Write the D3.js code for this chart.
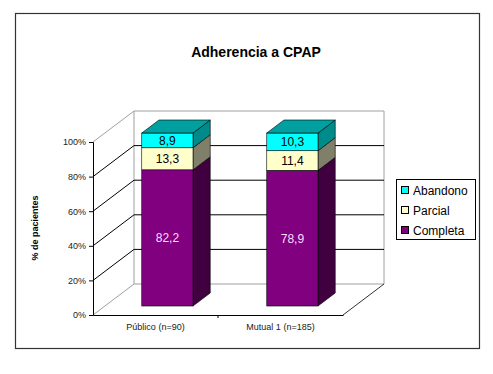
<!DOCTYPE html>
<html>
<head>
<meta charset="utf-8">
<script src="https://cdn.jsdelivr.net/npm/d3@7"></script>
<style>
  body { margin: 0; background: #fff; }
  svg text { font-family: Arial, "Liberation Sans", sans-serif; }
</style>
</head>
<body>
<div id="chart"></div>
<script>
// data (100% stacked, labels show raw values)
const categories = ["Público (n=90)", "Mutual 1 (n=185)"]
const seriesNames = ["Completa", "Parcial", "Abandono"]
const completa = [82.2, 78.9]
const parcial = [13.3, 11.4]
const abandono = [8.9, 10.3]
const yTicks = [0, 0.2, 0.4, 0.6, 0.8, 1]

const frontColor = { Completa: "#800080", Parcial: "#ffffcc", Abandono: "#00ffff" }
const sideColor = { Completa: "#400040", Parcial: "#80806a", Abandono: "#008b8b" }
const topColor = "#00a0a0"
const labelColor = { Completa: "#ffddff", Parcial: "#000", Abandono: "#000" }

const width = 493, height = 374
const depth = [41, -31]      // back wall offset
const barDepth = [0.29, 0.71] // bar position inside the depth

const rows = categories.map((c, i) => ({ cat: c, Completa: completa[i], Parcial: parcial[i], Abandono: abandono[i] }))
const stacked = d3.stack().keys(seriesNames).offset(d3.stackOffsetExpand)(rows)

const x = d3.scaleBand().domain(categories).range([93, 343]).paddingInner(0).paddingOuter(0)
const y = d3.scaleLinear().domain([0, 1]).range([315, 142])
const barW = x.bandwidth() * 0.41

const proj = (px, v, d) => [px + depth[0] * d, y(v) + depth[1] * d]
const fmt = v => v.toFixed(1).replace(".", ",")

const svg = d3.select("#chart").append("svg")
  .attr("width", width).attr("height", height)

svg.append("rect").attr("x", 15.5).attr("y", 13.5).attr("width", 464).attr("height", 335)
  .attr("fill", "#fff").attr("stroke", "#333").attr("stroke-width", 1.2)

svg.append("text").attr("x", 256).attr("y", 57).attr("text-anchor", "middle")
  .attr("font-size", 14).attr("font-weight", "bold").text("Adherencia a CPAP")

const plot = svg.append("g")
const x0 = x.range()[0], x1 = x.range()[1]

// back wall
const bw = [proj(x0, 0, 1), proj(x0, 1, 1), proj(x1, 1, 1), proj(x1, 0, 1)]
plot.append("polygon").attr("points", bw.map(p => p.join(",")).join(" "))
  .attr("fill", "#fff").attr("stroke", "#a0a0a0")

// grid lines on back wall and side wall
yTicks.filter(t => t > 0 && t < 1).forEach(t => {
  const a = proj(x0, t, 0), b = proj(x0, t, 1), c = proj(x1, t, 1)
  plot.append("polyline").attr("points", [a, b, c].map(p => p.join(",")).join(" "))
    .attr("fill", "none").attr("stroke", "#000").attr("stroke-width", 1)
})
// side wall outer edges (gray)
;[0, 1].forEach(t => {
  const a = proj(x0, t, 0), b = proj(x0, t, 1)
  plot.append("line").attr("x1", a[0]).attr("y1", a[1]).attr("x2", b[0]).attr("y2", b[1])
    .attr("stroke", "#a0a0a0")
})
// floor right edge
{
  const a = proj(x1, 0, 0), b = proj(x1, 0, 1)
  plot.append("line").attr("x1", a[0]).attr("y1", a[1]).attr("x2", b[0]).attr("y2", b[1])
    .attr("stroke", "#333")
}

// bars
const bars = plot.append("g")
categories.forEach((cat, i) => {
  const left = x(cat) + (x.bandwidth() - barW) / 2
  const right = left + barW
  const d0 = barDepth[0], d1 = barDepth[1]
  stacked.forEach(s => {
    const [v0, v1] = s[i]
    const key = s.key
    const side = [proj(right, v0, d0), proj(right, v0, d1), proj(right, v1, d1), proj(right, v1, d0)]
    bars.append("polygon").attr("points", side.map(p => p.join(",")).join(" "))
      .attr("fill", sideColor[key]).attr("stroke", "#000").attr("stroke-width", 0.6)
    const f0 = proj(left, v1, d0), f1 = proj(right, v0, d0)
    bars.append("rect").attr("x", f0[0]).attr("y", f0[1])
      .attr("width", f1[0] - f0[0]).attr("height", f1[1] - f0[1])
      .attr("fill", frontColor[key]).attr("stroke", "#000").attr("stroke-width", 0.6)
    bars.append("text").attr("x", (f0[0] + f1[0]) / 2).attr("y", (f0[1] + f1[1]) / 2 + 4.5)
      .attr("text-anchor", "middle").attr("font-size", 12).attr("fill", labelColor[key])
      .text(fmt(s[i].data[key]))
  })
  const top = [proj(left, 1, d0), proj(left, 1, d1), proj(right, 1, d1), proj(right, 1, d0)]
  bars.append("polygon").attr("points", top.map(p => p.join(",")).join(" "))
    .attr("fill", topColor).attr("stroke", "#000").attr("stroke-width", 0.6)
})

// axes
const yAxis = svg.append("g").attr("transform", `translate(${x0},0)`)
  .call(d3.axisLeft(y).tickValues(yTicks).tickFormat(d3.format(".0%")).tickSize(4).tickPadding(3))
yAxis.select(".domain").attr("stroke", "#000")
yAxis.selectAll("text").attr("font-size", 9).attr("fill", "#222").attr("font-family", "Arial, sans-serif")

const xAxis = svg.append("g").attr("transform", `translate(0,${y(0)})`)
  .call(d3.axisBottom(x).tickSize(0).tickPadding(9))
xAxis.select(".domain").attr("stroke", "#000")
xAxis.selectAll("text").attr("font-size", 9).attr("fill", "#222").attr("font-family", "Arial, sans-serif")
xAxis.append("line").attr("x1", x(categories[1])).attr("x2", x(categories[1]))
  .attr("y1", 0).attr("y2", 3).attr("stroke", "#000")

svg.append("text").attr("transform", "translate(38,228) rotate(-90)")
  .attr("text-anchor", "middle").attr("font-size", 9).attr("font-weight", "bold")
  .text("% de pacientes")

// legend
const legend = svg.append("g").attr("transform", "translate(396,179)")
legend.append("rect").attr("x", 0.5).attr("y", 0.5).attr("width", 79).attr("height", 60)
  .attr("fill", "#fff").attr("stroke", "#000")
seriesNames.slice().reverse().forEach((k, i) => {
  const g = legend.append("g").attr("transform", `translate(5,${11 + i * 20})`)
  g.append("rect").attr("x", 0.5).attr("y", -3.5).attr("width", 7).attr("height", 7)
    .attr("fill", frontColor[k]).attr("stroke", "#000")
  g.append("text").attr("x", 12).attr("y", 4.5).attr("font-size", 12).text(k)
})
</script>
</body>
</html>
